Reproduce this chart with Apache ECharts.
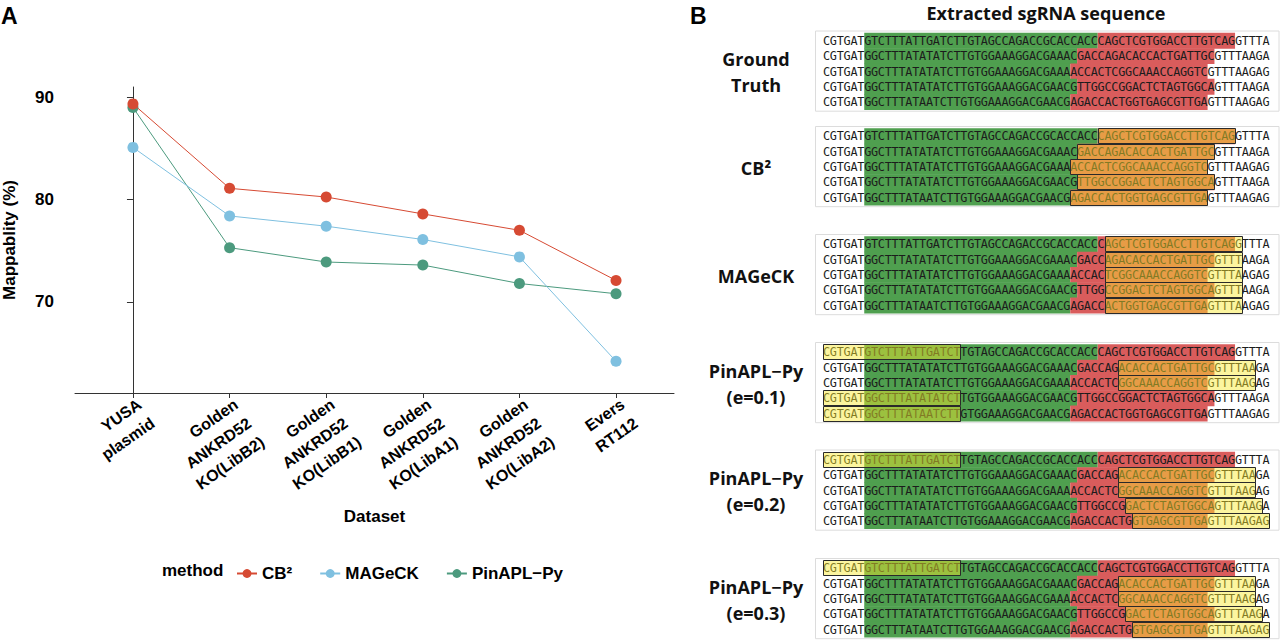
<!DOCTYPE html>
<html>
<head>
<meta charset="utf-8">
<script src="https://cdn.jsdelivr.net/npm/echarts@6/dist/echarts.min.js"></script>
<style>
html,body{margin:0;padding:0;background:#fff;}
#chart{width:1280px;height:640px;}
</style>
</head>
<body>
<div id="chart"></div>
<script>
// ---------- Panel A data ----------
const categories = ['YUSA\nplasmid', 'Golden\nANKRD52\nKO(LibB2)', 'Golden\nANKRD52\nKO(LibB1)',
  'Golden\nANKRD52\nKO(LibA1)', 'Golden\nANKRD52\nKO(LibA2)', 'Evers\nRT112'];
const methods = ['CB\u00B2', 'MAGeCK', 'PinAPL\u2212Py'];
const cb2Values = [89.35, 81.1, 80.25, 78.6, 77.0, 72.1];
const mageckValues = [85.1, 78.4, 77.4, 76.1, 74.4, 64.2];
const pinaplValues = [89.0, 75.3, 73.9, 73.6, 71.8, 70.8];
const yTickValues = [70, 80, 90];
const categoryIndex = [0, 1, 2, 3, 4, 5];

// ---------- Panel B data ----------
const blockNames = ['Ground\nTruth', 'CB\u00B2', 'MAGeCK', 'PinAPL\u2212Py\n(e=0.1)', 'PinAPL\u2212Py\n(e=0.2)', 'PinAPL\u2212Py\n(e=0.3)'];
const sequences = [
  'CGTGATGTCTTTATTGATCTTGTAGCCAGACCGCACCACCCAGCTCGTGGACCTTGTCAGGTTTA',
  'CGTGATGGCTTTATATATCTTGTGGAAAGGACGAAACGACCAGACACCACTGATTGCGTTTAAGA',
  'CGTGATGGCTTTATATATCTTGTGGAAAGGACGAAAACCACTCGGCAAACCAGGTCGTTTAAGAG',
  'CGTGATGGCTTTATATATCTTGTGGAAAGGACGAACGTTGGCCGGACTCTAGTGGCAGTTTAAGA',
  'CGTGATGGCTTTATAATCTTGTGGAAAGGACGAACGAGACCACTGGTGAGCGTTGAGTTTAAGAG'
];
const scaffoldStart = [6, 6, 6, 6, 6];
const sgRNAStart = [40, 37, 36, 37, 36];
const sgRNAEnd = [60, 57, 56, 57, 56];
// extracted boxes: [row, startChar, endChar]
const boxesGroundTruth = [];
const boxesCB2 = [[0, 40, 60], [1, 37, 57], [2, 36, 56], [3, 37, 57], [4, 36, 56]];
const boxesMAGeCK = [[0, 41, 61], [1, 41, 61], [2, 41, 61], [3, 41, 61], [4, 41, 61]];
const boxesPinE01 = [[0, 0, 20], [1, 43, 63], [2, 43, 63], [3, 0, 20], [4, 0, 20]];
const boxesPinE02 = [[0, 0, 20], [1, 43, 63], [2, 43, 63], [3, 44, 64], [4, 45, 65]];
const boxesPinE03 = [[0, 0, 20], [1, 43, 63], [2, 43, 63], [3, 44, 64], [4, 45, 65]];
const blockBoxes = [boxesGroundTruth, boxesCB2, boxesMAGeCK, boxesPinE01, boxesPinE02, boxesPinE03];

// ---------- styles / layout ----------
const colors = ['#d64a33', '#7fc0e0', '#4c9a7e'];
const greenBg = '#4f9f4f';
const redBg = '#d95c5c';
const overlayFill = 'rgba(248,233,46,0.46)';
const blockTops = [31, 126.5, 234.5, 342.5, 450, 558.5];
const blockHeight = 80.2;
const boldFont = '"Liberation Sans", Arial, Helvetica, sans-serif';
const yMin = 61.1, yMax = 91;

const chart = echarts.init(document.getElementById('chart'), null, { renderer: 'svg' });

const grids = [{ left: 72, top: 87, width: 602, height: 306 }];
const xAxes = [{
  gridIndex: 0, type: 'value', min: -0.6, max: 5.6,
  axisLine: { show: true, onZero: false, lineStyle: { color: '#333', width: 1 } },
  axisTick: { show: true, customValues: categoryIndex, length: 5, lineStyle: { color: '#333' } },
  splitLine: { show: false },
  axisLabel: { show: false },
  name: 'Dataset', nameLocation: 'middle', nameGap: 115,
  nameTextStyle: { fontFamily: boldFont, fontWeight: 'bold', fontSize: 17, color: '#000', verticalAlign: 'top' }
}];
const yAxes = [{
  gridIndex: 0, type: 'value', min: yMin, max: yMax,
  axisLine: { show: true, lineStyle: { color: '#333', width: 1 } },
  axisTick: { show: true, customValues: yTickValues, length: 6, lineStyle: { color: '#333' } },
  splitLine: { show: false },
  axisLabel: { customValues: yTickValues, margin: 21, fontFamily: boldFont, fontWeight: 'bold', fontSize: 17, color: '#000' },
  name: 'Mappablity (%)', nameLocation: 'middle', nameGap: 57,
  nameTextStyle: { fontFamily: boldFont, fontWeight: 'bold', fontSize: 17, color: '#000' }
}];

const series = [];
[cb2Values, mageckValues, pinaplValues].forEach((vals, k) => {
  series.push({
    type: 'line', name: methods[k], xAxisIndex: 0, yAxisIndex: 0,
    data: vals.map((v, i) => [categoryIndex[i], v]),
    symbol: 'circle', symbolSize: 11,
    itemStyle: { color: colors[k] },
    lineStyle: { color: colors[k], width: 1 },
    z: 3 - k
  });
});

const graphics = [];
blockNames.forEach((name, b) => {
  const gi = b + 1;
  grids.push({ left: 815.5, top: blockTops[b], width: 463.5, height: blockHeight, show: true,
    borderColor: '#dcdcdc', borderWidth: 1, backgroundColor: 'transparent' });
  xAxes.push({ gridIndex: gi, type: 'value', min: -1.1, max: 66.4, show: false });
  yAxes.push({ gridIndex: gi, type: 'value', min: -0.62, max: 4.62, inverse: true, show: false });

  const bgData = [];
  sequences.forEach((s, r) => {
    bgData.push([r, scaffoldStart[r], sgRNAStart[r], 0]);
    bgData.push([r, sgRNAStart[r], sgRNAEnd[r], 1]);
  });
  series.push({
    type: 'custom', xAxisIndex: gi, yAxisIndex: gi, data: bgData, z: 1, silent: true, clip: false,
    renderItem: (params, api) => {
      const r = api.value(0), s = api.value(1), e = api.value(2), kind = api.value(3);
      const p1 = api.coord([s, r - 0.5]);
      const p2 = api.coord([e, r + 0.5]);
      return { type: 'rect', shape: { x: p1[0], y: p1[1], width: p2[0] - p1[0], height: p2[1] - p1[1] + 0.6 },
        style: { fill: kind === 0 ? greenBg : redBg } };
    }
  });
  series.push({
    type: 'custom', xAxisIndex: gi, yAxisIndex: gi, data: sequences.map((s, r) => [r]), z: 2, silent: true, clip: false,
    renderItem: (params, api) => {
      const r = api.value(0);
      const seq = sequences[r];
      const children = [];
      for (let i = 0; i < seq.length; i++) {
        const p = api.coord([i + 0.5, r]);
        children.push({ type: 'text', x: p[0], y: p[1] + 0.5,
          style: { text: seq[i], fill: '#1c1c1c', font: '11.8px "DejaVu Sans Mono", monospace',
            textAlign: 'center', textVerticalAlign: 'middle' } });
      }
      return { type: 'group', children };
    }
  });
  series.push({
    type: 'custom', xAxisIndex: gi, yAxisIndex: gi, data: blockBoxes[b], z: 3, silent: true, clip: false,
    renderItem: (params, api) => {
      const r = api.value(0), s = api.value(1), e = api.value(2);
      const p1 = api.coord([s, r - 0.5]);
      const p2 = api.coord([e, r + 0.5]);
      return { type: 'rect', shape: { x: Math.round(p1[0]) + 0.5, y: Math.round(p1[1]) + 0.5,
          width: Math.round(p2[0] - p1[0]), height: Math.round(p2[1] - p1[1]) },
        style: { fill: overlayFill, stroke: '#2a2a2a', lineWidth: 1 } };
    }
  });

  graphics.push({ type: 'text', x: 756, y: blockTops[b] + blockHeight / 2 + 1,
    style: { text: name, font: 'bold 18px "Open Sans", sans-serif', fill: '#111', textAlign: 'center',
      textVerticalAlign: 'middle', lineHeight: 26 } });
});

graphics.push({ type: 'text', x: 1, y: 4, style: { text: 'A', font: 'bold 23px ' + boldFont, fill: '#000' } });
graphics.push({ type: 'text', x: 690, y: 4, style: { text: 'B', font: 'bold 23px ' + boldFont, fill: '#000' } });
graphics.push({ type: 'text', x: 1046, y: 13, style: { text: 'Extracted sgRNA sequence', font: 'bold 18px "Open Sans", sans-serif',
  fill: '#111', textAlign: 'center', textVerticalAlign: 'middle' } });
graphics.push({ type: 'text', x: 162, y: 570, style: { text: 'method', font: 'bold 17px ' + boldFont, fill: '#000',
  textAlign: 'left', textVerticalAlign: 'middle' } });

chart.setOption({
  animation: false,
  backgroundColor: '#fff',
  grid: grids,
  xAxis: xAxes,
  yAxis: yAxes,
  legend: {
    data: methods, left: 231, top: 560, itemWidth: 20, itemHeight: 11, itemGap: 27,
    textStyle: { fontFamily: boldFont, fontWeight: 'bold', fontSize: 17, color: '#000' }
  },
  graphic: graphics,
  series: series
});

// rotated category tick labels, anchored at the axis ticks through the axis scale
const labelAngle = 35 * Math.PI / 180;
categories.forEach((cat, i) => {
  const p = chart.convertToPixel({ xAxisIndex: 0, yAxisIndex: 0 }, [categoryIndex[i], yMin]);
  const lines = cat.split('\n');
  const lh = 23;
  lines.forEach((ln, j) => {
    graphics.push({
      type: 'text', x: p[0] + 2 + j * lh * Math.sin(labelAngle), y: p[1] + 3 + j * lh * Math.cos(labelAngle),
      rotation: labelAngle, originX: 0, originY: 0,
      style: { text: ln, font: 'bold 16px ' + boldFont, fill: '#000', textAlign: 'right', textVerticalAlign: 'top' }
    });
  });
});
chart.setOption({ graphic: graphics });
</script>
</body>
</html>
